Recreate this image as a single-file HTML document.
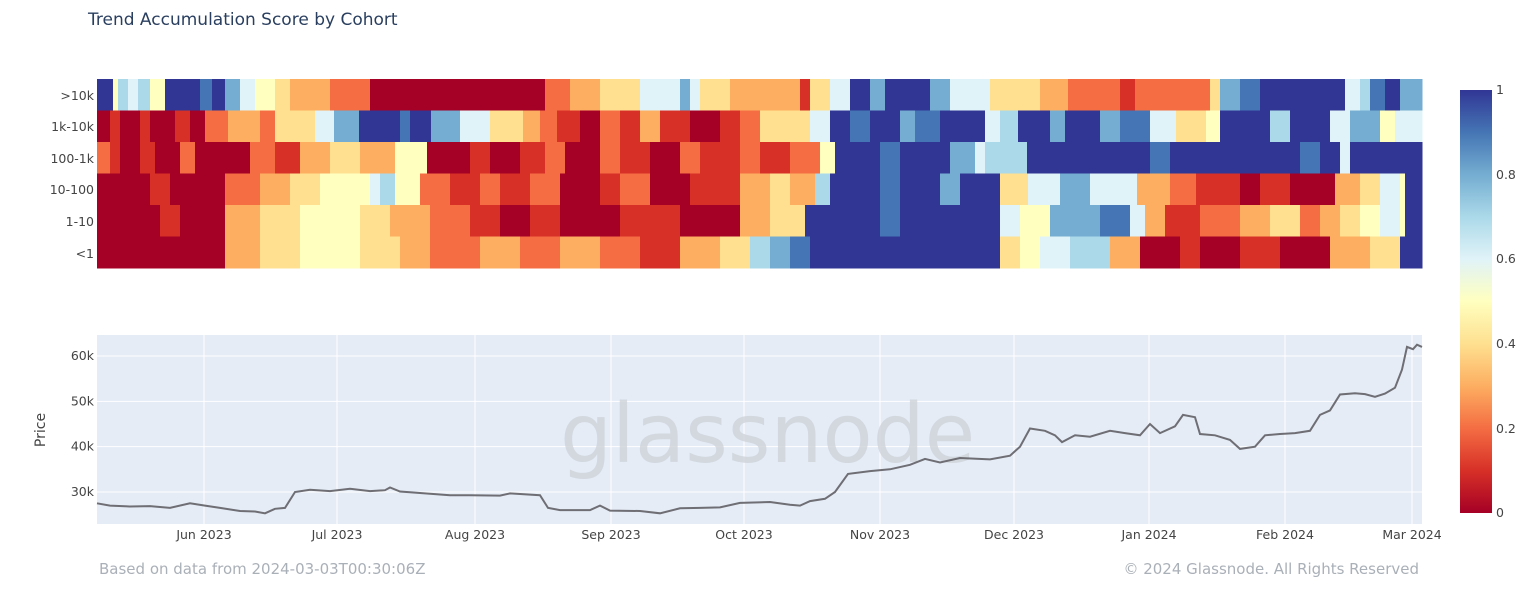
<!DOCTYPE html>
<html><head><meta charset="utf-8"><style>
body{margin:0;background:#fff;width:1537px;height:598px;overflow:hidden;font-family:"Liberation Sans","DejaVu Sans",sans-serif}
svg text{font-family:"DejaVu Sans","Liberation Sans",sans-serif}
</style></head><body>
<svg id="s" width="1537" height="598" xmlns="http://www.w3.org/2000/svg">
<defs><linearGradient id="cb" x1="0" y1="1" x2="0" y2="0">
<stop offset="0" stop-color="#a50026"/><stop offset="0.1" stop-color="#d73027"/><stop offset="0.2" stop-color="#f46d43"/><stop offset="0.3" stop-color="#fdae61"/><stop offset="0.4" stop-color="#fee090"/><stop offset="0.5" stop-color="#ffffbf"/><stop offset="0.6" stop-color="#e0f3f8"/><stop offset="0.7" stop-color="#abd9e9"/><stop offset="0.8" stop-color="#74add1"/><stop offset="0.9" stop-color="#4575b4"/><stop offset="1" stop-color="#313695"/></linearGradient></defs>
<text x="88" y="25" font-size="17" fill="#2a3f5f">Trend Accumulation Score by Cohort</text>
<g id="hm"></g>
<g font-size="12.5" fill="#444" text-anchor="end">
<text x="94" y="100">&gt;10k</text><text x="94" y="131">1k-10k</text><text x="94" y="163">100-1k</text><text x="94" y="194">10-100</text><text x="94" y="226">1-10</text><text x="94" y="258">&lt;1</text></g>
<rect x="97" y="335" width="1325" height="189" fill="#e5ecf6"/>
<g id="grid" stroke="#fff" stroke-width="1"></g>
<text x="560" y="462" font-size="82" fill="#cfd4da" opacity="0.8" font-family="Liberation Sans">glassnode</text>
<polyline id="pl" fill="none" stroke="#6e6e74" stroke-width="2"/>
<g font-size="12.5" fill="#444" text-anchor="end" id="yl"></g>
<text transform="translate(45,430) rotate(-90)" font-size="14" fill="#444" text-anchor="middle">Price</text>
<g font-size="12.5" fill="#444" text-anchor="middle" id="xl"></g>
<rect x="1460" y="90" width="32" height="423" fill="url(#cb)"/>
<g font-size="12.5" fill="#444"><text x="1496" y="94">1</text><text x="1496" y="179">0.8</text><text x="1496" y="263">0.6</text><text x="1496" y="348">0.4</text><text x="1496" y="433">0.2</text><text x="1496" y="517">0</text></g>
<text x="99" y="574" font-size="15" fill="#aab0b8">Based on data from 2024-03-03T00:30:06Z</text>
<text x="1419" y="574" font-size="15" fill="#aab0b8" text-anchor="end">© 2024 Glassnode. All Rights Reserved</text>
</svg>
<script>
var C={R:"#a50026",r:"#d73027",o:"#f46d43",O:"#fdae61",y:"#fee090",w:"#ffffbf",l:"#e0f3f8",b:"#abd9e9",m:"#74add1",B:"#4575b4",D:"#313695"};
var rows=[
"D:113,w:118,b:128,l:138,b:150,w:165,D:200,B:212,D:225,m:240,l:255,w:275,y:290,O:330,o:370,R:545,o:570,O:600,y:640,l:680,m:690,l:700,y:730,O:760,O:800,r:810,y:830,l:850,D:870,m:885,D:930,m:950,l:990,y:1040,O:1068,o:1120,r:1135,o:1210,y:1220,m:1240,B:1260,D:1345,l:1360,b:1370,B:1385,D:1400,m:1422",
"R:110,r:120,R:140,r:150,R:175,r:190,R:205,o:228,O:260,o:275,y:315,l:334,m:359,D:400,B:410,D:431,m:460,l:490,y:523,O:540,o:557,r:580,R:600,o:620,r:640,O:660,r:690,R:720,r:740,o:760,y:810,l:830,D:850,B:870,D:900,m:915,B:940,D:985,l:1000,b:1018,D:1050,m:1065,D:1100,m:1120,B:1150,l:1176,y:1206,w:1220,D:1270,b:1290,D:1330,l:1350,m:1380,w:1395,l:1422",
"o:110,r:120,R:140,r:155,R:180,o:195,R:250,o:275,r:300,O:330,y:360,O:395,w:427,R:470,r:490,R:520,r:545,o:565,R:600,o:620,r:650,R:680,o:700,r:740,o:760,r:790,o:820,w:835,D:880,B:900,D:950,m:975,l:985,b:1027,D:1150,B:1170,D:1300,B:1320,D:1340,l:1350,D:1422",
"R:150,r:170,R:225,o:260,O:290,y:320,w:370,l:380,b:395,w:420,o:450,r:480,o:500,r:530,o:560,R:600,r:620,o:650,R:690,r:740,O:770,y:790,O:815,b:830,D:880,B:900,D:940,m:960,D:1000,y:1028,l:1060,m:1090,l:1137,O:1170,o:1196,r:1240,R:1260,r:1290,R:1335,O:1360,y:1380,l:1400,w:1405,D:1422",
"R:160,r:180,R:225,O:260,y:300,w:360,y:390,O:430,o:470,r:500,R:530,r:560,R:620,r:680,R:740,O:770,y:805,D:880,B:900,D:1000,l:1020,w:1050,m:1100,B:1130,l:1145,O:1165,r:1200,o:1240,O:1270,y:1300,o:1320,O:1340,y:1360,w:1380,l:1400,w:1405,D:1422",
"R:225,O:260,y:300,w:360,y:400,O:430,o:480,O:520,o:560,O:600,o:640,r:680,O:720,y:750,b:770,m:790,B:810,D:1000,y:1020,w:1040,l:1070,b:1110,O:1140,R:1180,r:1200,R:1240,r:1280,R:1330,O:1370,y:1400,D:1422"];
var hm=document.getElementById("hm"),h="";
var ty=79,rh=189/6;
rows.forEach(function(r,i){var x=97;r.split(",").forEach(function(p){var a=p.split(":"),e=+a[1];h+='<rect x="'+x+'" y="'+(ty+i*rh)+'" width="'+(e-x+0.5)+'" height="'+(rh+0.5)+'" fill="'+C[a[0]]+'"/>';x=e;});});
hm.innerHTML=h;
var ticks=[[204,"Jun 2023"],[337,"Jul 2023"],[475,"Aug 2023"],[611,"Sep 2023"],[744,"Oct 2023"],[880,"Nov 2023"],[1014,"Dec 2023"],[1149,"Jan 2024"],[1285,"Feb 2024"],[1412,"Mar 2024"]];
var g="",xl="";ticks.forEach(function(t){g+='<line x1="'+t[0]+'" y1="335" x2="'+t[0]+'" y2="524"/>';xl+='<text x="'+t[0]+'" y="539">'+t[1]+'</text>';});
var Y=function(p){return 492-(p-30)*4.533;};
var yl="";[30,40,50,60].forEach(function(v){g+='<line x1="97" y1="'+Y(v)+'" x2="1422" y2="'+Y(v)+'"/>';yl+='<text x="94" y="'+(Y(v)+4)+'">'+v+'k</text>';});
document.getElementById("grid").innerHTML=g;document.getElementById("xl").innerHTML=xl;document.getElementById("yl").innerHTML=yl;
var P=[[97,27.5],[110,27],[130,26.8],[150,26.9],[170,26.5],[190,27.5],[205,27],[220,26.5],[240,25.8],[255,25.7],[265,25.3],[275,26.3],[285,26.5],[295,30],[310,30.5],[330,30.2],[350,30.7],[370,30.2],[385,30.4],[390,31],[400,30.1],[430,29.6],[450,29.3],[470,29.3],[500,29.2],[510,29.7],[540,29.3],[548,26.5],[560,26],[590,26],[600,27],[610,25.9],[640,25.8],[660,25.3],[680,26.4],[700,26.5],[720,26.6],[740,27.6],[770,27.8],[790,27.2],[800,27],[810,28],[825,28.5],[835,30],[848,34],[870,34.6],[890,35],[910,36],[925,37.3],[940,36.5],[960,37.5],[990,37.2],[1010,38],[1020,40],[1030,44],[1045,43.5],[1055,42.5],[1062,41],[1075,42.5],[1090,42.2],[1110,43.5],[1125,43],[1140,42.5],[1150,45],[1160,43],[1175,44.5],[1183,47],[1195,46.5],[1200,42.8],[1215,42.5],[1230,41.5],[1240,39.5],[1255,40],[1265,42.5],[1280,42.8],[1295,43],[1310,43.5],[1320,47],[1330,48],[1340,51.5],[1355,51.8],[1365,51.6],[1375,51],[1385,51.7],[1395,53],[1402,57],[1407,62],[1413,61.5],[1417,62.5],[1422,62]];
document.getElementById("pl").setAttribute("points",P.map(function(p){return p[0]+","+Y(p[1]).toFixed(1);}).join(" "));
</script>
</body></html>
